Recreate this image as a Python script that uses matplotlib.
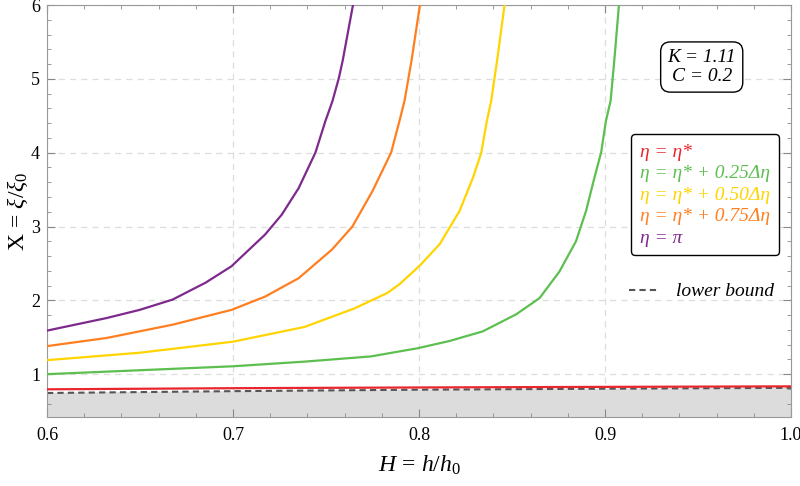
import matplotlib
matplotlib.use("Agg")
import matplotlib.pyplot as plt
from matplotlib.ticker import MultipleLocator, FormatStrFormatter
from matplotlib.lines import Line2D

plt.rcParams['mathtext.fontset'] = 'custom'
plt.rcParams['mathtext.rm'] = 'Liberation Serif'
plt.rcParams['mathtext.it'] = 'Liberation Serif:italic'
plt.rcParams['font.family'] = ['Liberation Serif', 'DejaVu Serif']

# data
purple_x = [0.6, 0.632, 0.6497, 0.6675, 0.6853, 0.6991, 0.7172, 0.7262, 0.7353, 0.7443, 0.7497, 0.7535, 0.7570, 0.7590, 0.7645]
purple_y = [1.59, 1.76, 1.87, 2.01, 2.24, 2.46, 2.89, 3.16, 3.52, 4.0, 4.43, 4.70, 5.02, 5.25, 6.0]
orange_x = [0.6, 0.632, 0.6675, 0.6991, 0.7172, 0.7353, 0.7533, 0.7642, 0.775, 0.785, 0.7895, 0.7922, 0.796, 0.8005]
orange_y = [1.38, 1.49, 1.67, 1.87, 2.05, 2.30, 2.69, 3.0, 3.48, 4.0, 4.43, 4.70, 5.25, 6.0]
yellow_x = [0.6, 0.6497, 0.7, 0.7385, 0.7652, 0.783, 0.7896, 0.8004, 0.8111, 0.8218, 0.829, 0.8335, 0.8365, 0.8388, 0.842, 0.846]
yellow_y = [1.19, 1.29, 1.44, 1.64, 1.89, 2.10, 2.22, 2.47, 2.76, 3.21, 3.66, 4.0, 4.43, 4.70, 5.25, 6.0]
green_x = [0.6, 0.7, 0.7385, 0.774, 0.799, 0.8165, 0.8343, 0.8522, 0.8648, 0.8755, 0.8844, 0.8898, 0.8943, 0.8979, 0.9005, 0.9030, 0.9050, 0.9075]
green_y = [1.0, 1.107, 1.17, 1.24, 1.35, 1.45, 1.58, 1.81, 2.03, 2.39, 2.80, 3.21, 3.66, 4.0, 4.43, 4.70, 5.25, 6.0]
red_x = [0.6, 0.7, 0.8, 0.9, 1.0]
red_y = [0.795, 0.81, 0.82, 0.828, 0.835]
lb_x = [0.6, 0.7, 0.8, 0.9, 1.0]
lb_y = [0.745, 0.77, 0.79, 0.803, 0.815]

legend_labels = ['η = η*',
                 'η = η* + 0.25Δη',
                 'η = η* + 0.50Δη',
                 'η = η* + 0.75Δη',
                 'η = π']
colors = ['#e8262c', '#5dbf50', '#ffd400', '#ff7f20', '#7d2a8c']

fig = plt.figure(figsize=(8, 4.86), dpi=100)
ax = fig.add_axes([47/800, 1-417/486, 744/800, 412/486])
ymin = 0.42
ax.set_xlim(0.6, 1.0)
ax.set_ylim(ymin, 6)

ax.fill_between(lb_x, ymin, lb_y, color='#dcdcdc', zorder=1)
ax.plot(lb_x, lb_y, color='#555555', lw=1.5, ls=(0, (3, 2)), zorder=2)
ax.plot(red_x, red_y, color=colors[0], lw=1.6, zorder=3)
ax.plot(green_x, green_y, color=colors[1], lw=1.6, zorder=3)
ax.plot(yellow_x, yellow_y, color=colors[2], lw=1.6, zorder=3)
ax.plot(orange_x, orange_y, color=colors[3], lw=1.6, zorder=3)
ax.plot(purple_x, purple_y, color=colors[4], lw=1.6, zorder=3)

ax.xaxis.set_major_locator(MultipleLocator(0.1))
ax.xaxis.set_minor_locator(MultipleLocator(0.02))
ax.xaxis.set_major_formatter(FormatStrFormatter('%.1f'))
ax.yaxis.set_major_locator(MultipleLocator(1))
ax.yaxis.set_minor_locator(MultipleLocator(0.2))
ax.tick_params(which='both', direction='in', top=True, right=True, color='#888888')
ax.tick_params(which='major', length=6, labelsize=13)
ax.tick_params(which='minor', length=3)
ax.tick_params(axis='x', pad=7)
ax.tick_params(axis='y', pad=5)
for s in ax.spines.values():
    s.set_color('#999999')
ax.grid(True, which='major', ls=(0, (5, 4)), color='#dddddd', lw=0.9)

ax.set_xlabel(r'$H\,=\,h/h_0$', fontsize=17, labelpad=7)
ax.set_ylabel(r'$\mathrm{X}\,=\,\xi/\xi_0$', fontsize=17, labelpad=1)

ax.text(0.952, 5.16, 'K = 1.11\nC = 0.2', fontsize=14, fontstyle='italic',
        va='center', ha='center', linespacing=1.2,
        bbox=dict(boxstyle='round,pad=0.35,rounding_size=0.5', fc='white', ec='black', lw=1.0))

handles = [Line2D([], [], color='none') for _ in legend_labels]
leg = ax.legend(handles, legend_labels, loc='upper left', bbox_to_anchor=(0.772, 0.71),
                handlelength=0, handletextpad=0, prop={'size': 14, 'style': 'italic'},
                frameon=True, fancybox=True, edgecolor='black', framealpha=1,
                borderpad=0.45, labelspacing=0.2)
leg.get_frame().set_linewidth(1.0)
for t, c in zip(leg.get_texts(), colors):
    t.set_color(c)
ax.add_artist(leg)

lb_handle = Line2D([], [], color='#555555', lw=1.5, ls=(0, (3, 2)))
leg2 = ax.legend([lb_handle], ['lower bound'], loc='upper left', bbox_to_anchor=(0.759, 0.368),
                 frameon=False, prop={'size': 14, 'style': 'italic'},
                 handlelength=1.6, handletextpad=0.8)

fig.savefig('out.png', dpi=100)
